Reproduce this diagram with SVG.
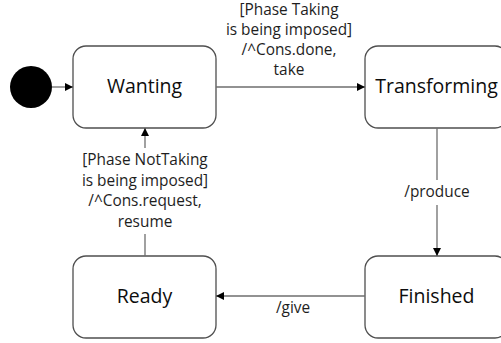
<svg xmlns="http://www.w3.org/2000/svg" width="501" height="343" viewBox="0 0 501 343">
  <style>
    .state { fill: #ffffff; stroke: #4f4f4f; stroke-width: 1.3; }
    .name { font-family: "Open Sans", "Noto Sans", sans-serif; font-size: 19.5px; fill: #0d0d0d; text-anchor: middle; }
    .lbl { font-family: "Open Sans", "Noto Sans", sans-serif; font-size: 15.4px; fill: #1e1e1e; text-anchor: middle; }
    .edge { fill: none; stroke: #6e6e6e; stroke-width: 1.3; }
  </style>
  <defs>
    <marker id="arrow" markerUnits="userSpaceOnUse" markerWidth="10" markerHeight="10" refX="9" refY="5" orient="auto">
      <path d="M1,1 L9,5 L1,9 Z" fill="#000000"/>
    </marker>
  </defs>
  <rect width="501" height="343" fill="#ffffff"/>

  <g id="initial">
    <circle cx="31" cy="87" r="21" fill="#000000"/>
  </g>

  <g id="wanting">
    <rect class="state" x="73" y="46" width="143" height="82" rx="13"/>
    <text class="name" x="144.5" y="93">Wanting</text>
  </g>

  <g id="transforming">
    <rect class="state" x="365" y="46" width="143" height="82" rx="13"/>
    <text class="name" x="436.5" y="93">Transforming</text>
  </g>

  <g id="ready">
    <rect class="state" x="73" y="256" width="143" height="82" rx="13"/>
    <text class="name" x="144.5" y="303">Ready</text>
  </g>

  <g id="finished">
    <rect class="state" x="365" y="256" width="143" height="82" rx="13"/>
    <text class="name" x="436.5" y="303">Finished</text>
  </g>

  <g id="connectors">
    <line class="edge" x1="52" y1="87" x2="73" y2="87" marker-end="url(#arrow)"/>
    <line class="edge" x1="216" y1="87" x2="365" y2="87" marker-end="url(#arrow)"/>
    <text class="lbl" x="289" y="14.5">[Phase Taking</text>
    <text class="lbl" x="289" y="34.5">is being imposed]</text>
    <text class="lbl" x="289" y="54.5">/^Cons.done,</text>
    <text class="lbl" x="289" y="75">take</text>

    <line class="edge" x1="437" y1="128" x2="437" y2="180"/>
    <line class="edge" x1="437" y1="205" x2="437" y2="256" marker-end="url(#arrow)"/>
    <text class="lbl" x="437" y="197">/produce</text>

    <line class="edge" x1="365" y1="296" x2="216" y2="296" marker-end="url(#arrow)"/>
    <text class="lbl" x="293" y="313">/give</text>

    <line class="edge" x1="145" y1="256" x2="145" y2="234"/>
    <line class="edge" x1="145" y1="148" x2="145" y2="128" marker-end="url(#arrow)"/>
    <text class="lbl" x="145" y="165">[Phase NotTaking</text>
    <text class="lbl" x="145" y="185.5">is being imposed]</text>
    <text class="lbl" x="145" y="206">/^Cons.request,</text>
    <text class="lbl" x="145" y="226.5">resume</text>
  </g>
</svg>
